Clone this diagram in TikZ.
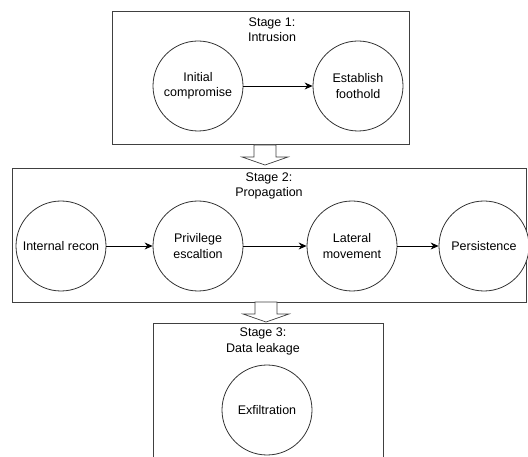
\documentclass[tikz,border=0pt]{standalone}
\usepackage{fontspec}
\setmainfont{Liberation Sans}
\usepackage{tikz}
\usetikzlibrary{calc}
\usetikzlibrary{arrows.meta}
\tikzset{
  boxline/.style={draw=black!75, line width=0.8pt},
  phase/.style={shape=circle, draw=black!80, line width=0.8pt, fill=white, inner sep=0pt,
    minimum size=90pt, align=center, font=\fontsize{12.5}{15.5}\selectfont},
  stagelabel/.style={align=center, inner sep=0pt, font=\fontsize{12.5}{15.5}\selectfont},
  flow/.style={draw=black, line width=0.8pt, -{Stealth[length=8pt,width=7pt]}},
  bigarrow/.style={draw=black!75, line width=0.7pt, fill=white}
}
\newcommand{\stagebox}[4]{ \draw[boxline] ( #1 , #2 ) rectangle ( #3 , #4 );}
\newcommand{\phasenode}[4]{\node[phase] (#1) at ( #2 , #3 ) {#4};}
\newcommand{\downblock}[2]{\draw[bigarrow] ( #1-11 , #2 ) -- ( #1-11 , #2+12 ) -- ( #1-23 , #2+12 )
  -- ( #1 , #2+20 ) -- ( #1+23 , #2+12 ) -- ( #1+11 , #2+12 ) -- ( #1+11 , #2 ) -- cycle;}

\begin{document}
\begin{tikzpicture}[x=1pt,y=-1pt]
\useasboundingbox (0,0) rectangle (528,457);
% stage 1 box
\stagebox{112}{11}{409}{144}
\node[stagelabel] (s1) at (272,29.5) {Stage 1:\\Intrusion};
\phasenode{init}{198}{86}{Initial\\compromise}
\phasenode{foot}{358}{86}{Establish\\foothold}
\draw[flow] (init) -- (foot);
% arrow to stage 2
\downblock{265}{145}
% stage 2 box
\stagebox{12}{168}{526}{302}
\node[stagelabel] (s2) at (269,186) {Stage 2:\\Propagation};
\phasenode{recon}{61}{246}{Internal recon}
\phasenode{priv}{198}{246}{Privilege\\escaltion}
\phasenode{lat}{352}{246}{Lateral\\movement}
\phasenode{pers}{484}{246}{Persistence}
\draw[flow] (recon) -- (priv);
\draw[flow] (priv) -- (lat);
\draw[flow] (lat) -- (pers);
% arrow to stage 3
\downblock{266}{302}
% stage 3 box, open at the bottom
\draw[boxline] (153,457) -- (153,323) -- (383,323) -- (383,457);
\node[stagelabel] (s3) at (263,341.5) {Stage 3:\\Data leakage};
\phasenode{exfil}{267}{410}{Exfiltration}
\end{tikzpicture}
\end{document}
